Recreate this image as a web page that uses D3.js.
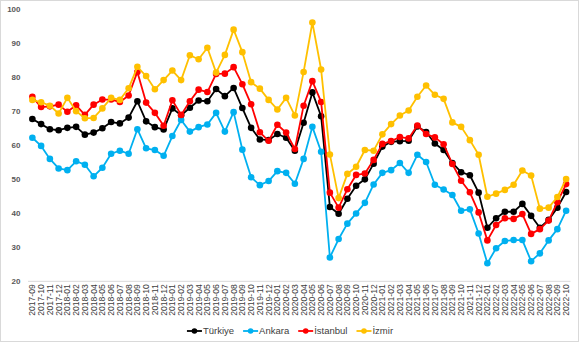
<!DOCTYPE html>
<html><head><meta charset="utf-8">
<script src="https://cdn.jsdelivr.net/npm/d3@7"></script>
<style>
html,body{margin:0;padding:0;background:#fff;}
svg{display:block;font-family:"Liberation Sans",Arial,sans-serif;}
</style></head>
<body>
<svg id="chart" width="580" height="343"></svg>
<script>
const months = [];
(function(){ let y=2017, m=9; for(let i=0;i<62;i++){ months.push(y+"-"+String(m).padStart(2,"0")); m++; if(m>12){m=1;y++;} } })();

const seriesNames = ["Türkiye","Ankara","İstanbul","İzmir"];
const seriesColors = ["#000000","#00b0f0","#ff0000","#ffc000"];

const turkiye = [67.6,66.1,64.6,64.3,65.0,65.3,63.0,63.6,64.9,66.7,
  66.3,68.0,72.8,66.9,65.2,64.5,70.7,68.7,70.9,73.0,
  72.8,76.4,74.3,76.7,70.8,65.0,61.6,61.4,63.2,62.1,
  58.3,66.5,75.4,68.4,41.8,39.8,44.2,48.0,49.9,54.5,
  59.5,60.9,61.1,61.2,65.4,63.8,60.4,58.5,54.7,52.0,
  51.1,46.0,35.7,38.5,40.4,40.4,42.7,39.2,35.7,38.0,41.6,46.2];
const ankara = [62.1,59.7,55.9,53.1,52.6,55.2,54.2,50.8,53.3,57.4,
  58.3,57.4,64.6,59.0,58.5,56.8,62.6,67.3,63.9,65.2,
  66.0,69.4,63.9,69.6,58.6,50.5,48.2,49.4,52.3,51.8,
  48.6,55.9,65.3,58.0,27.0,32.4,36.9,39.9,43.0,48.4,
  51.8,52.6,54.7,51.8,57.1,55.0,48.3,46.9,45.3,40.7,
  41.1,34.0,25.3,29.7,31.8,32.1,32.1,25.9,28.2,32.0,35.3,40.7];
const istanbul = [74.1,71.1,71.3,71.8,69.7,71.6,68.8,71.8,73.3,73.3,
  72.6,74.5,81.4,72.4,69.4,65.6,73.1,68.8,72.8,76.2,
  75.5,80.8,80.9,82.8,77.8,71.9,63.7,61.2,65.9,63.6,
  58.8,71.5,78.7,72.6,46.0,41.6,47.0,51.2,51.6,55.6,
  60.3,61.1,62.3,61.9,65.7,63.2,62.2,60.2,54.4,49.5,
  46.1,40.2,32.0,36.5,38.5,38.3,39.7,33.9,35.3,37.8,43.2,48.5];
const izmir = [73.2,72.5,71.5,69.2,73.8,69.9,67.8,67.9,70.7,73.8,
  73.2,76.6,82.9,80.2,76.3,79.0,81.8,79.0,86.3,85.1,
  88.5,81.2,86.4,93.8,87.2,78.4,76.5,73.2,70.4,73.8,
  68.6,81.4,95.9,82.1,57.2,44.4,51.5,53.6,58.5,58.3,
  63.1,66.1,68.6,70.1,74.1,77.4,74.7,73.5,66.6,65.3,
  61.4,57.1,44.8,45.7,46.8,48.3,52.5,51.0,41.3,41.6,44.7,50.0];
const yTicks = [20,30,40,50,60,70,80,90,100];

const allSeries = [turkiye, ankara, istanbul, izmir];

const svg = d3.select("#chart");
svg.append("rect").attr("x",0.5).attr("y",0.5).attr("width",578).attr("height",341)
  .attr("fill","#fff").attr("stroke","#d9d9d9");

const x = d3.scaleBand().domain(months).range([28,570.5]);
const y = d3.scaleLinear().domain([20,100]).range([281.3,8.5]);
const cx = d => x(d) + x.bandwidth()/2;

// baseline
svg.append("line").attr("x1",28).attr("x2",570.5).attr("y1",y(20)).attr("y2",y(20))
  .attr("stroke","#d9d9d9").attr("stroke-width",1);

// y axis
const yAxis = d3.axisLeft(y).tickValues(yTicks).tickSize(0).tickPadding(0);
const gy = svg.append("g").attr("transform","translate(20.5,0)").call(yAxis);
gy.select(".domain").remove();
gy.selectAll("text").attr("font-size","8px").attr("font-weight","bold").attr("fill","#595959")
  .attr("font-family","'Liberation Sans',Arial,sans-serif");

// x axis
const xAxis = d3.axisBottom(x).tickSize(0).tickPadding(0);
const gx = svg.append("g").attr("transform",`translate(0,${y(20)})`).call(xAxis);
gx.select(".domain").remove();
gx.selectAll("text").attr("font-size","8.6px").attr("fill","#404040")
  .attr("font-family","'Liberation Sans',Arial,sans-serif")
  .attr("text-anchor","end").attr("transform","rotate(-90)")
  .attr("x",-3).attr("y",0).attr("dy","0.35em");

// series
const line = d3.line().x((d,i)=>cx(months[i])).y(d=>y(d));
allSeries.forEach((s,k)=>{
  const g = svg.append("g");
  g.append("path").datum(s).attr("d",line).attr("fill","none")
    .attr("stroke",seriesColors[k]).attr("stroke-width",1.8).attr("stroke-linejoin","round");
  g.selectAll("circle").data(s).join("circle")
    .attr("cx",(d,i)=>cx(months[i])).attr("cy",d=>y(d)).attr("r",3.3)
    .attr("fill",seriesColors[k]);
});

// legend
const lg = svg.append("g");
let lx = 0;
const items = [];
seriesNames.forEach((n,k)=>{
  const it = lg.append("g").attr("transform",`translate(${lx},0)`);
  it.append("line").attr("x1",0).attr("x2",15).attr("y1",0).attr("y2",0)
    .attr("stroke",seriesColors[k]).attr("stroke-width",1.8);
  it.append("circle").attr("cx",7.5).attr("cy",0).attr("r",2.8).attr("fill",seriesColors[k]);
  const t = it.append("text").attr("x",16).attr("y",0).attr("dy","0.35em")
    .attr("font-size","9.5px").attr("fill","#404040").text(n);
  lx += 16 + t.node().getComputedTextLength() + 9;
});
const totalW = lx - 9;
lg.attr("transform",`translate(${290 - totalW/2},331)`);
</script>
</body></html>
